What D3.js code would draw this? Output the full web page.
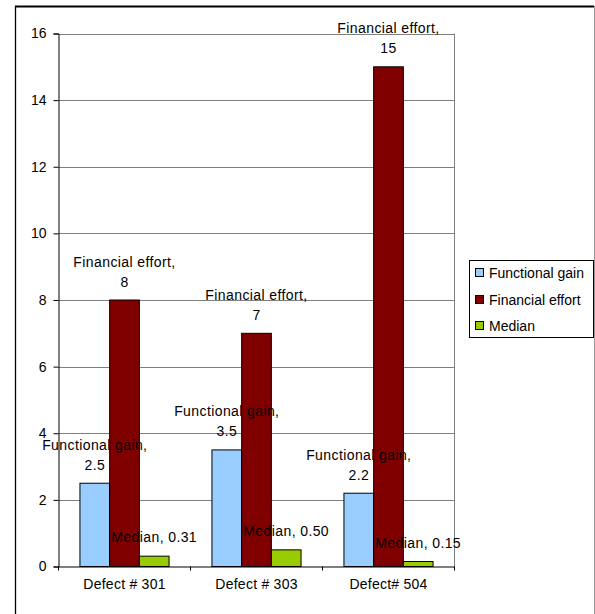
<!DOCTYPE html>
<html>
<head>
<meta charset="utf-8">
<script src="https://cdn.jsdelivr.net/npm/d3@7"></script>
<style>
  html, body { margin: 0; padding: 0; background: #fff; }
  svg { display: block; font-family: "Liberation Sans", Arial, sans-serif; }
</style>
</head>
<body>
<svg id="chart" width="595" height="614"></svg>
<script>
// Chart data
const categories = ["Defect # 301", "Defect # 303", "Defect# 504"];
const seriesNames = ["Functional gain", "Financial effort", "Median"];
const functionalGain = [2.5, 3.5, 2.2];
const financialEffort = [8, 7, 15];
const median = [0.31, 0.50, 0.15];
const yTicks = [0, 2, 4, 6, 8, 10, 12, 14, 16];
const colors = ["#99CCFF", "#800000", "#99CC00"];

const seriesValues = [functionalGain, financialEffort, median];
const labelFormat = [v => String(v), v => String(v), v => v.toFixed(2)];

const svg = d3.select("#chart");
const plot = { left: 58.5, right: 454.5, top: 33.5, bottom: 566.5 };

// outer frame
svg.append("line").attr("x1", 15.5).attr("x2", 15.5).attr("y1", 6).attr("y2", 614)
  .attr("stroke", "#000").attr("stroke-width", 1.3);
svg.append("line").attr("x1", 15).attr("x2", 594).attr("y1", 6.5).attr("y2", 6.5)
  .attr("stroke", "#000").attr("stroke-width", 2);
svg.append("line").attr("x1", 594.5).attr("x2", 594.5).attr("y1", 6).attr("y2", 614)
  .attr("stroke", "#999").attr("stroke-width", 1);

const x = d3.scaleBand().domain(categories).range([plot.left, plot.right]).padding(0);
const xs = d3.scaleBand().domain(seriesNames).range([0, x.bandwidth()])
  .paddingInner(0).paddingOuter(0.722);
const y = d3.scaleLinear().domain([0, 16]).range([plot.bottom, plot.top]);

// gridlines
svg.append("g").selectAll("line").data(yTicks.filter(t => t > 0)).join("line")
  .attr("x1", plot.left).attr("x2", plot.right)
  .attr("y1", d => Math.round(y(d)) + 0.5).attr("y2", d => Math.round(y(d)) + 0.5)
  .attr("stroke", "#808080").attr("stroke-width", 1);
// right border of plot area
svg.append("line").attr("x1", plot.right).attr("x2", plot.right)
  .attr("y1", plot.top).attr("y2", plot.bottom)
  .attr("stroke", "#808080").attr("stroke-width", 1);

// bars
const groups = svg.append("g").selectAll("g").data(categories).join("g")
  .attr("transform", d => `translate(${x(d)},0)`);
groups.each(function(cat, ci) {
  const g = d3.select(this);
  seriesNames.forEach((s, si) => {
    const v = seriesValues[si][ci];
    g.append("rect")
      .attr("x", xs(s)).attr("width", xs.bandwidth())
      .attr("y", y(v)).attr("height", y(0) - y(v))
      .attr("fill", colors[si]).attr("stroke", "#000").attr("stroke-width", 1);
  });
});

// y axis
const yAxis = d3.axisLeft(y).tickValues(yTicks).tickSize(5).tickPadding(7);
const yg = svg.append("g").attr("transform", `translate(${plot.left},0)`).call(yAxis);
yg.select(".domain").attr("stroke", "#000");
yg.selectAll(".tick line").attr("stroke", "#000");
yg.selectAll(".tick text").attr("font-size", 14).attr("fill", "#000")
  .attr("font-family", "Liberation Sans, Arial, sans-serif");

// x axis
const xAxis = d3.axisBottom(x).tickSize(0).tickPadding(13);
const xg = svg.append("g").attr("transform", `translate(0,${plot.bottom})`).call(xAxis);
xg.select(".domain").attr("stroke", "#000");
xg.selectAll(".tick text").attr("font-size", 14).attr("fill", "#000")
  .attr("letter-spacing", "0.25px")
  .attr("font-family", "Liberation Sans, Arial, sans-serif");
const boundaries = categories.map(c => x(c)).concat([x(categories[categories.length - 1]) + x.bandwidth()]);
xg.selectAll(".bound").data(boundaries).join("line").attr("class", "bound")
  .attr("x1", d => d).attr("x2", d => d).attr("y1", 0).attr("y2", 4)
  .attr("stroke", "#000");

// data labels
const labels = svg.append("g").attr("font-size", 14).attr("fill", "#000")
  .attr("letter-spacing", "0.4px")
  .attr("text-anchor", "middle");
categories.forEach((cat, ci) => {
  seriesNames.forEach((s, si) => {
    const v = seriesValues[si][ci];
    const cx = x(cat) + xs(s) + xs.bandwidth() / 2;
    const top = y(v);
    const valueText = labelFormat[si](v);
    if (s === "Median") {
      labels.append("text").attr("x", cx).attr("y", top - 14)
        .text(`${s}, ${valueText}`);
    } else {
      labels.append("text").attr("x", cx).attr("y", top - 33.5).text(`${s},`);
      labels.append("text").attr("x", cx).attr("y", top - 13.5).text(valueText);
    }
  });
});

// legend
const legend = svg.append("g");
legend.append("rect").attr("x", 469.5).attr("y", 260.5).attr("width", 124).attr("height", 77)
  .attr("fill", "#fff").attr("stroke", "#000").attr("stroke-width", 1);
const legendRows = [273, 300, 326];
seriesNames.forEach((s, i) => {
  legend.append("rect").attr("x", 475.5).attr("y", legendRows[i] - 4.5).attr("width", 8).attr("height", 8)
    .attr("fill", colors[i]).attr("stroke", "#000");
  legend.append("text").attr("x", 489).attr("y", legendRows[i] + 5).attr("font-size", 14)
    .attr("fill", "#000").text(s);
});
</script>
</body>
</html>
